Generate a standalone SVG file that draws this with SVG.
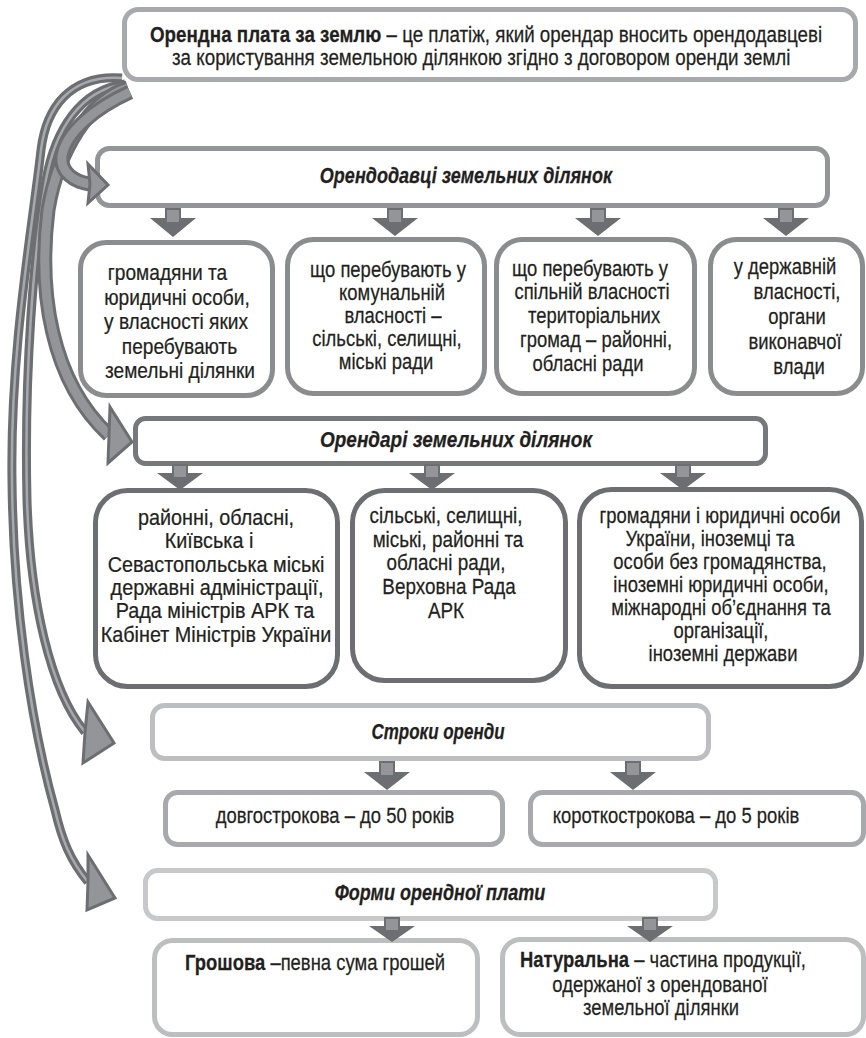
<svg xmlns="http://www.w3.org/2000/svg" width="866" height="1038" viewBox="0 0 866 1038">
<defs>
<style>
.t{font-family:'Liberation Sans',Arial,sans-serif;font-size:22.5px;fill:#231f20;stroke:#231f20;stroke-width:0.25px;}
.c{text-anchor:middle;}
.b{font-weight:bold;}
.h{font-weight:bold;font-style:italic;text-anchor:middle;font-size:22px;}
.box{fill:#fff;stroke-width:5;}
.s1{stroke:#a7a9ac;}
.s2{stroke:#939598;}
.s3{stroke:#8a8c8e;}
.s4{stroke:#77787b;}
.s5{stroke:#6d6e71;}
.s6{stroke:#bcbec0;}
.s7{stroke:#c7c8ca;}
.tri{fill:#6d6e71;}
.sh{fill:#939598;stroke:#6d6e71;stroke-width:2;}
.o1{fill:none;stroke:#6d6e71;stroke-width:15;}
.i1{fill:none;stroke:#939598;stroke-width:9;}
.o2{fill:none;stroke:#6d6e71;stroke-width:9;}
.i2{fill:none;stroke:#a7a9ac;stroke-width:2.5;}
.hd{fill:#939598;stroke:#6d6e71;stroke-width:3;stroke-linejoin:miter;}
</style>
</defs>
<rect width="866" height="1038" fill="#fff"/>

<g id="n-top">
<rect class="box s1" x="124.5" y="9.5" width="731" height="70" rx="14"/>
<text class="t" transform="translate(150 42) scale(.835 1)"><tspan class="b">Орендна плата за землю</tspan> – це платіж, який орендар вносить орендодавцеві</text>
<text class="t" transform="translate(172 65) scale(.835 1)">за користування земельною ділянкою згідно з договором оренди землі</text>
</g>

<g id="n-lessors">
<rect class="box s2" x="97.5" y="148.5" width="730" height="57" rx="12"/>
<text class="t h" transform="translate(466 183) scale(.82 1)">Орендодавці земельних ділянок</text>
</g>

<g id="n-l1">
<rect class="box s3" x="80.5" y="242.5" width="192" height="153" rx="26"/>
<text class="t c" transform="translate(167.5 280) scale(.85 1)">громадяни та</text>
<text class="t c" transform="translate(177 304.5) scale(.85 1)">юридичні особи,</text>
<text class="t c" transform="translate(176 329) scale(.85 1)">у власності яких</text>
<text class="t c" transform="translate(179.5 353.5) scale(.85 1)">перебувають</text>
<text class="t c" transform="translate(180 378) scale(.85 1)">земельні ділянки</text>
</g>

<g id="n-l2">
<rect class="box s3" x="287.5" y="239.5" width="197" height="154" rx="26"/>
<text class="t c" transform="translate(388 277) scale(.82 1)">що перебувають у</text>
<text class="t c" transform="translate(392 300) scale(.82 1)">комунальній</text>
<text class="t c" transform="translate(393 323) scale(.82 1)">власності  –</text>
<text class="t c" transform="translate(387 346) scale(.82 1)">сільські, селищні,</text>
<text class="t c" transform="translate(386 369) scale(.82 1)">міські ради</text>
</g>

<g id="n-l3">
<rect class="box s3" x="496.5" y="239.5" width="198" height="154" rx="26"/>
<text class="t c" transform="translate(590 276) scale(.82 1)">що перебувають у</text>
<text class="t c" transform="translate(592 299) scale(.82 1)">спільній власності</text>
<text class="t c" transform="translate(594 323) scale(.82 1)">територіальних</text>
<text class="t c" transform="translate(596 347) scale(.82 1)">громад  –  районні,</text>
<text class="t c" transform="translate(588 371) scale(.82 1)">обласні ради</text>
</g>

<g id="n-l4">
<rect class="box s3" x="710.5" y="239.5" width="152" height="154" rx="26"/>
<text class="t c" transform="translate(785 274) scale(.82 1)">у державній</text>
<text class="t c" transform="translate(797 299) scale(.82 1)">власності,</text>
<text class="t c" transform="translate(797 324) scale(.82 1)">органи</text>
<text class="t c" transform="translate(795 349) scale(.82 1)">виконавчої</text>
<text class="t c" transform="translate(799 374) scale(.82 1)">влади</text>
</g>

<g id="n-lessees">
<rect class="box s4" x="135.5" y="418.5" width="630" height="45" rx="10"/>
<text class="t h" x="456" y="447" textLength="272" lengthAdjust="spacingAndGlyphs">Орендарі  земельних ділянок</text>
</g>

<g id="n-e1">
<rect class="box s5" x="95.5" y="490.5" width="242" height="196" rx="32"/>
<text class="t c" transform="translate(216 525) scale(.88 1)">районні, обласні,</text>
<text class="t c" transform="translate(209 548) scale(.88 1)">Київська і</text>
<text class="t c" transform="translate(216 572) scale(.88 1)">Севастопольська міські</text>
<text class="t c" transform="translate(217 595) scale(.88 1)">державні адміністрації,</text>
<text class="t c" transform="translate(215 618) scale(.88 1)">Рада міністрів АРК  та</text>
<text class="t c" transform="translate(216 642) scale(.88 1)">Кабінет Міністрів України</text>
</g>

<g id="n-e2">
<rect class="box s5" x="352.5" y="490.5" width="213" height="190" rx="32"/>
<text class="t c" transform="translate(446 523) scale(.84 1)">сільські, селищні,</text>
<text class="t c" transform="translate(448 547) scale(.84 1)">міські, районні та</text>
<text class="t c" transform="translate(446 570) scale(.84 1)">обласні ради,</text>
<text class="t c" transform="translate(449 594) scale(.84 1)">Верховна Рада</text>
<text class="t c" transform="translate(446 618) scale(.84 1)">АРК</text>
</g>

<g id="n-e3">
<rect class="box s5" x="579.5" y="489.5" width="282" height="197" rx="32"/>
<text class="t c" transform="translate(720 523) scale(.82 1)">громадяни і юридичні особи</text>
<text class="t c" transform="translate(710 546) scale(.82 1)">України,  іноземці та</text>
<text class="t c" transform="translate(720 569) scale(.82 1)">особи без громадянства,</text>
<text class="t c" transform="translate(721 592) scale(.82 1)">іноземні юридичні особи,</text>
<text class="t c" transform="translate(721 615) scale(.82 1)">міжнародні об’єднання та</text>
<text class="t c" transform="translate(721 638) scale(.82 1)">організації,</text>
<text class="t c" transform="translate(723 661) scale(.82 1)">іноземні держави</text>
</g>

<g id="n-terms">
<rect class="box s6" x="152.5" y="705.5" width="556" height="53" rx="12"/>
<text class="t h" x="438" y="739" textLength="133" lengthAdjust="spacingAndGlyphs">Строки оренди</text>
</g>

<g id="n-long">
<rect class="box s1" x="165.5" y="792.5" width="337" height="52" rx="12"/>
<text class="t c" transform="translate(335 823) scale(.82 1)">довгострокова  –  до 50 років</text>
</g>

<g id="n-short">
<rect class="box s1" x="530.5" y="792.5" width="333" height="52" rx="12"/>
<text class="t c" transform="translate(676 823) scale(.82 1)">короткострокова  –  до 5 років</text>
</g>

<g id="n-forms">
<rect class="box s7" x="145.5" y="870.5" width="570" height="48" rx="12"/>
<text class="t h" transform="translate(440 900) scale(.82 1)">Форми орендної плати</text>
</g>

<g id="n-money">
<rect class="box s6" x="154.5" y="940.5" width="323" height="94" rx="18"/>
<text class="t" transform="translate(185 970) scale(.82 1)"><tspan class="b">Грошова</tspan> –певна сума грошей</text>
</g>

<g id="n-natural">
<rect class="box s6" x="502.5" y="939.5" width="361" height="95" rx="18"/>
<text class="t" transform="translate(520 967) scale(.82 1)"><tspan class="b">Натуральна</tspan>  –   частина продукції,</text>
<text class="t c" transform="translate(660 992) scale(.82 1)">одержаної з орендованої</text>
<text class="t c" transform="translate(661 1015) scale(.82 1)">земельної ділянки</text>
</g>

<g id="connectors">
<g id="down-arrows">
<polygon class="tri" points="150,218 196,218 173,237"/><rect class="sh" x="166" y="209" width="14" height="14"/>
<polygon class="tri" points="372,218 418,218 395,236"/><rect class="sh" x="388" y="209" width="14" height="14"/>
<polygon class="tri" points="575,218 621,218 598,236"/><rect class="sh" x="591" y="209" width="14" height="14"/>
<polygon class="tri" points="763,218 809,218 786,236"/><rect class="sh" x="779" y="209" width="14" height="14"/>

<polygon class="tri" points="157,473 203,473 180,490"/><rect class="sh" x="173" y="465" width="14" height="13"/>
<polygon class="tri" points="409,473 455,473 432,490"/><rect class="sh" x="425" y="465" width="14" height="13"/>
<polygon class="tri" points="660,473 706,473 683,490"/><rect class="sh" x="676" y="465" width="14" height="13"/>

<polygon class="tri" points="364,772 410,772 387,790"/><rect class="sh" x="380" y="762" width="14" height="14"/>
<polygon class="tri" points="610,772 656,772 633,790"/><rect class="sh" x="626" y="762" width="14" height="14"/>

<polygon class="tri" points="369,926 415,926 392,942"/><rect class="sh" x="385" y="918" width="14" height="13"/>
<polygon class="tri" points="627,926 673,926 650,942"/><rect class="sh" x="643" y="918" width="14" height="13"/>
</g>
<g id="curved-arrows">
<path class="o2" d="M 122 78 C 70 74, 46 108, 41 150 C 32 230, 10 350, 12 480 C 13 600, 30 720, 55 810 C 62 840, 70 860, 88 882"/>
<path class="i2" d="M 122 78 C 70 74, 46 108, 41 150 C 32 230, 10 350, 12 480 C 13 600, 30 720, 55 810 C 62 840, 70 860, 88 882"/>
<path class="o2" d="M 125 84 C 80 90, 55 130, 46 180 C 34 250, 24 370, 27 500 C 30 600, 50 690, 85 732"/>
<path class="i2" d="M 125 84 C 80 90, 55 130, 46 180 C 34 250, 24 370, 27 500 C 30 600, 50 690, 85 732"/>
<path class="o1" d="M 128 88 C 90 100, 58 150, 48 210 C 38 290, 50 380, 109 435"/>
<path class="i1" d="M 128 88 C 90 100, 58 150, 48 210 C 38 290, 50 380, 109 435"/>
<path class="o1" d="M 130 92 C 95 108, 66 132, 62 156 C 60 172, 74 182, 90 184"/>
<path class="i1" d="M 130 92 C 95 108, 66 132, 62 156 C 60 172, 74 182, 90 184"/>
<polygon class="hd" points="88,164 108,185 88,203 90,184"/>
<polygon class="hd" points="110,407 132,442 108,463 109,435"/>
<polygon class="hd" points="88,702 114,743 83,763 85,732"/>
<polygon class="hd" points="88,855 115,898 87,910 88,882"/>
</g>
</g>
</svg>
